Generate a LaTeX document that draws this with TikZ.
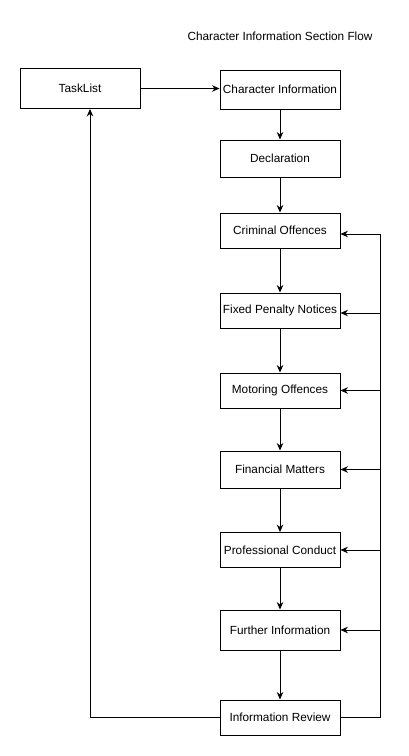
\documentclass[tikz,border=0pt]{standalone}
\usepackage{fontspec}
\setmainfont{Liberation Sans}
\usetikzlibrary{arrows.meta}
\begin{document}
\begin{tikzpicture}[x=1pt,y=-1pt,
  box/.style={draw=black, line width=0.9pt, minimum width=120pt, font=\fontsize{11.8}{13}\selectfont, inner sep=0pt},
  conn/.style={draw=black, line width=0.9pt, -{Stealth[length=7.5pt,width=6.5pt]}},
  plain/.style={draw=black, line width=0.9pt}]
\useasboundingbox (0,0) rectangle (409,756);
\node[font=\fontsize{11.8}{13}\selectfont] (title) at (280,36) {Character Information Section Flow};
\node[box, minimum height=40pt] (task) at (80,88.5) {TaskList};
\node[box, minimum height=39pt] (ci) at (280,89.5) {Character Information};
\node[box, minimum height=37pt] (decl) at (280,158.5) {Declaration};
\node[box, minimum height=35pt] (crim) at (280,230.5) {Criminal Offences};
\node[box, minimum height=35pt] (fpn) at (280,310.5) {Fixed Penalty Notices};
\node[box, minimum height=35pt] (mot) at (280,390.5) {Motoring Offences};
\node[box, minimum height=37pt] (fin) at (280,469.5) {Financial Matters};
\node[box, minimum height=35pt] (prof) at (280,550) {Professional Conduct};
\node[box, minimum height=40pt] (fur) at (280,630) {Further Information};
\node[box, minimum height=35pt] (rev) at (280,717.5) {Information Review};
\coordinate (rt) at (380,234);
\coordinate (rb) at (380,717.5);
\coordinate (lb) at (90,717.5);
\draw[conn] (task.east) -- (ci.west |- task.east);
\draw[conn] (ci) -- (decl);
\draw[conn] (decl) -- (crim);
\draw[conn] (crim) -- (fpn);
\draw[conn] (fpn) -- (mot);
\draw[conn] (mot) -- (fin);
\draw[conn] (fin) -- (prof);
\draw[conn] (prof) -- (fur);
\draw[conn] (fur) -- (rev);
\draw[plain] (rev.east) -- (rb) -- (rt);
\draw[conn] (rt) -- (crim.east |- rt);
\draw[conn] (380,313) -- (fpn.east |- 0,313);
\draw[conn] (380,390.5) -- (mot.east);
\draw[conn] (380,469.5) -- (fin.east);
\draw[conn] (380,550) -- (prof.east);
\draw[conn] (380,630) -- (fur.east);
\draw[conn] (rev.west) -- (lb) -- (lb |- task.south);
\end{tikzpicture}
\end{document}
